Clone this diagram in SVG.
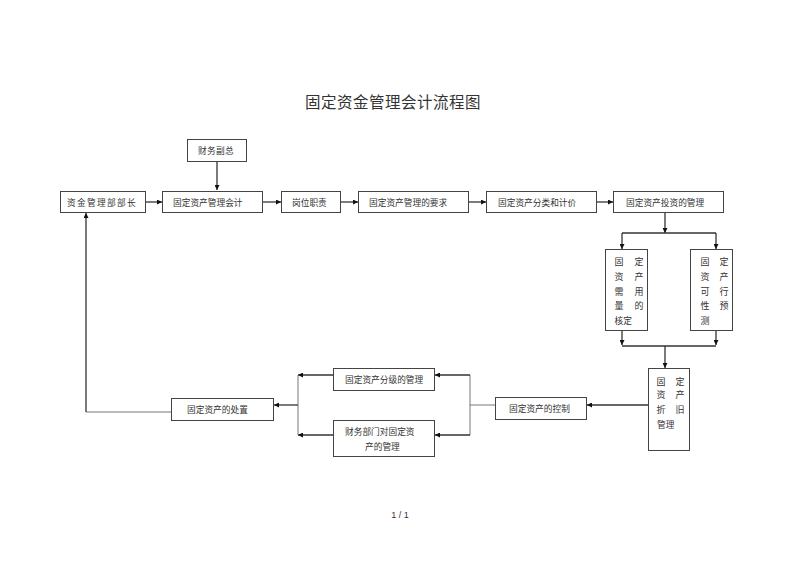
<svg xmlns="http://www.w3.org/2000/svg" width="800" height="566" viewBox="0 0 800 566">
<style>
.box{fill:#fff;stroke:#444;stroke-width:1}
.t{font-family:"Liberation Serif","Noto Sans CJK SC",serif;font-size:8.7px;fill:#333}
.tc{font-family:"Liberation Serif","Noto Sans CJK SC",serif;font-size:9px;fill:#333;text-anchor:middle}
.ln{fill:none;stroke:#333;stroke-width:1.3}
.la{fill:none;stroke:#333;stroke-width:1.3;marker-end:url(#ah)}
.gl{fill:none;stroke:#777;stroke-width:1}
</style>
<defs>
<marker id="ah" viewBox="0 0 10 10" refX="10" refY="5" markerWidth="5" markerHeight="5" markerUnits="userSpaceOnUse" orient="auto">
<path d="M0,0 L10,5 L0,10 z" fill="#111"/>
</marker>
</defs>
<rect width="800" height="566" fill="#fff"/>
<text x="393" y="108" font-family="'Liberation Serif','Noto Sans CJK SC',serif" font-size="15.5" fill="#333" text-anchor="middle" letter-spacing="0.5">固定资金管理会计流程图</text>

<g id="connectors">
<path class="la" d="M217,161 V190"/>
<path class="la" d="M146,202 H162"/>
<path class="la" d="M263,202 H281"/>
<path class="la" d="M341,202 H358"/>
<path class="la" d="M469,202 H486"/>
<path class="la" d="M597,202 H613"/>
<path class="la" d="M665,213 V233"/>
<path class="ln" d="M622,233 H716"/>
<path class="la" d="M622,233 V249"/>
<path class="la" d="M716,233 V249"/>
<path class="la" d="M622,331 V345"/>
<path class="la" d="M716,331 V345"/>
<path class="ln" d="M622,346 H716"/>
<path class="la" d="M665,346 V368"/>
<path class="la" d="M648,405 H587"/>
<path class="gl" d="M495,405 H470 V375 M470,405 V435"/>
<path class="la" d="M470,375 H435"/>
<path class="la" d="M470,435 H435"/>
<path class="la" d="M333,375 H298"/>
<path class="la" d="M333,435 H298"/>
<path class="gl" d="M298,375 V435"/>
<path class="la" d="M298,405 H274"/>
<path class="gl" d="M171,412 H86"/>
<path class="la" d="M86,412 V213"/>
</g>

<g id="n_fuzong"><rect class="box" x="187.5" y="139.5" width="59" height="22"/><text class="t" x="198" y="153.5" letter-spacing="0.3">财务副总</text></g>
<g id="n_buzhang"><rect class="box" x="60.5" y="191.5" width="85" height="21"/><text class="t" x="67" y="205.5" letter-spacing="1.3">资金管理部部长</text></g>
<g id="n_kuaiji"><rect class="box" x="162.5" y="191.5" width="100" height="21"/><text class="t" x="173" y="205.5">固定资产管理会计</text></g>
<g id="n_gangwei"><rect class="box" x="281.5" y="191.5" width="59" height="21"/><text class="t" x="292" y="205.5">岗位职责</text></g>
<g id="n_yaoqiu"><rect class="box" x="358.5" y="191.5" width="110" height="21"/><text class="t" x="369" y="205.5">固定资产管理的要求</text></g>
<g id="n_fenlei"><rect class="box" x="486.5" y="191.5" width="110" height="21"/><text class="t" x="498" y="205.5">固定资产分类和计价</text></g>
<g id="n_touzi"><rect class="box" x="613.5" y="191.5" width="110" height="21"/><text class="t" x="626" y="205.5">固定资产投资的管理</text></g>

<g id="n_xuyong"><rect class="box" x="605.5" y="249.5" width="42" height="81"/>
<text class="tc" x="619" y="264.5">固</text><text class="tc" x="639" y="264.5">定</text>
<text class="tc" x="619" y="279.5">资</text><text class="tc" x="639" y="279.5">产</text>
<text class="tc" x="619" y="294.5">需</text><text class="tc" x="639" y="294.5">用</text>
<text class="tc" x="619" y="308.5">量</text><text class="tc" x="639" y="308.5">的</text>
<text class="t" x="614.5" y="323.5">核定</text></g>

<g id="n_kexing"><rect class="box" x="690.5" y="249.5" width="42" height="81"/>
<text class="tc" x="705" y="264.5">固</text><text class="tc" x="724" y="264.5">定</text>
<text class="tc" x="705" y="279.5">资</text><text class="tc" x="724" y="279.5">产</text>
<text class="tc" x="705" y="294.5">可</text><text class="tc" x="724" y="294.5">行</text>
<text class="tc" x="705" y="308.5">性</text><text class="tc" x="724" y="308.5">预</text>
<text class="tc" x="705" y="323.5">测</text></g>

<g id="n_zhejiu"><rect class="box" x="648.5" y="368.5" width="41" height="82"/>
<text class="tc" x="661" y="384.5">固</text><text class="tc" x="680" y="384.5">定</text>
<text class="tc" x="661" y="397.5">资</text><text class="tc" x="680" y="397.5">产</text>
<text class="tc" x="661" y="412.5">折</text><text class="tc" x="680" y="412.5">旧</text>
<text class="t" x="657" y="427.5">管理</text></g>

<g id="n_kongzhi"><rect class="box" x="495.5" y="397.5" width="91" height="22"/><text class="t" x="509" y="412">固定资产的控制</text></g>
<g id="n_fenji"><rect class="box" x="333.5" y="368.5" width="101" height="22"/><text class="t" x="345" y="383">固定资产分级的管理</text></g>
<g id="n_caiwu"><rect class="box" x="333.5" y="420.5" width="101" height="36"/><text class="t" x="345" y="435">财务部门对固定资</text><text class="t" x="365" y="450">产的管理</text></g>
<g id="n_chuzhi"><rect class="box" x="171.5" y="398.5" width="102" height="22"/><text class="t" x="187" y="413">固定资产的处置</text></g>

<text x="400" y="518" font-family="'Liberation Sans',sans-serif" font-size="9" fill="#333" text-anchor="middle">1 / 1</text>
</svg>
